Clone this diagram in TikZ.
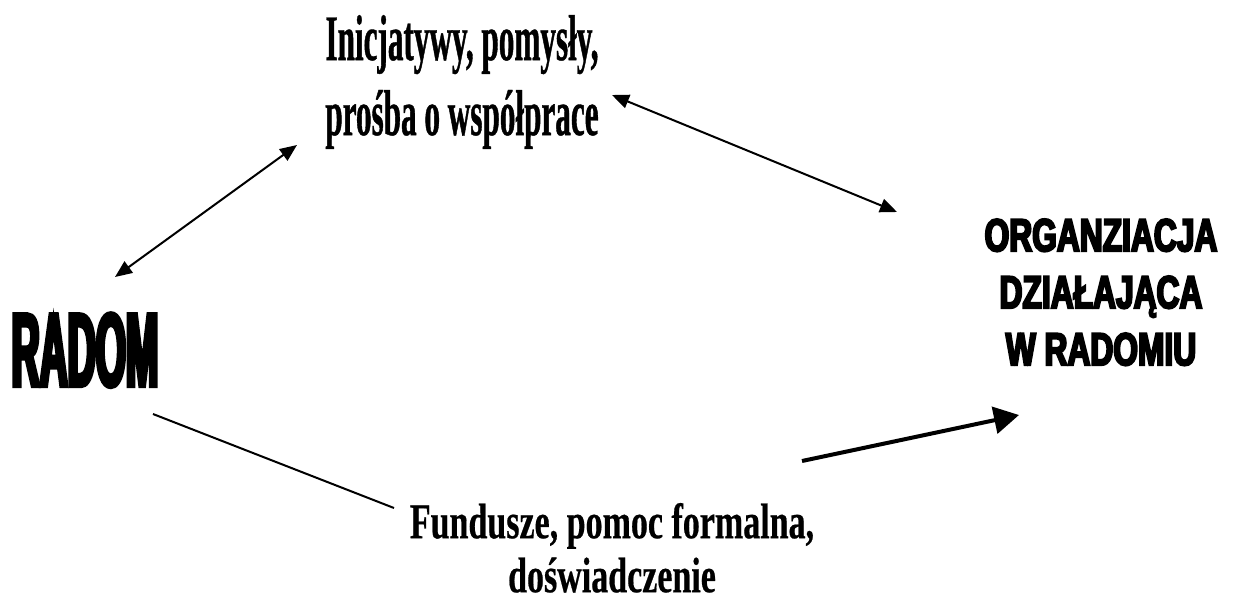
\documentclass[tikz,border=0pt]{standalone}
\usepackage{fontspec}
\usetikzlibrary{arrows.meta}
\newfontfamily\serifA[FakeStretch=0.48,FakeBold=0.6]{Liberation Serif}
\newfontfamily\serifB[FakeStretch=0.68,FakeBold=0.4]{Liberation Serif}
\newfontfamily\impactish[FakeStretch=0.37,FakeBold=3.5]{Liberation Sans}
\newfontfamily\blackish[FakeStretch=0.69,FakeBold=4.5]{Liberation Sans}
\tikzset{
  lbl/.style={inner sep=0pt, outer sep=0pt, align=center, anchor=north},
  thin/.style={line width=2pt},
  dbl/.style={thin, {Triangle[length=17pt,width=14pt]}-{Triangle[length=17pt,width=14pt]}},
  thick arrow/.style={line width=4pt, -{Triangle[length=25pt,width=27pt]}}
}
\begin{document}
\begin{tikzpicture}[x=1pt,y=-1pt]
\useasboundingbox (0,0) rectangle (1234,603);
\node[lbl, font={\lineskiplimit=-200pt\serifA\bfseries\fontsize{65}{75}\selectfont}] (ini) at (462,15) {Inicjatywy, pomysły,\\ prośba o współprace};
\node[lbl, font={\lineskiplimit=-200pt\serifB\bfseries\fontsize{50}{54}\selectfont}] (fun) at (612,503) {Fundusze, pomoc formalna,\\ doświadczenie};
\node[lbl, font={\impactish\bfseries\fontsize{105}{110}\selectfont}] (rad) at (85,313) {RADOM};
\node[lbl, font={\lineskiplimit=-200pt\blackish\bfseries\fontsize{46}{57}\selectfont}] (org) at (1101,219) {ORGANZIACJA\\ DZIAŁAJĄCA\\ W RADOMIU};
\coordinate (r1) at (115,277); \coordinate (i1) at (297,145);
\coordinate (i2) at (612,95);  \coordinate (o1) at (897,212);
\coordinate (r2) at (153,414); \coordinate (f1) at (394,508);
\coordinate (f2) at (802,461); \coordinate (o2) at (1019,415);
\draw[dbl] (r1) -- (i1);
\draw[dbl] (i2) -- (o1);
\draw[thin] (r2) -- (f1);
\draw[thick arrow] (f2) -- (o2);
\end{tikzpicture}
\end{document}
